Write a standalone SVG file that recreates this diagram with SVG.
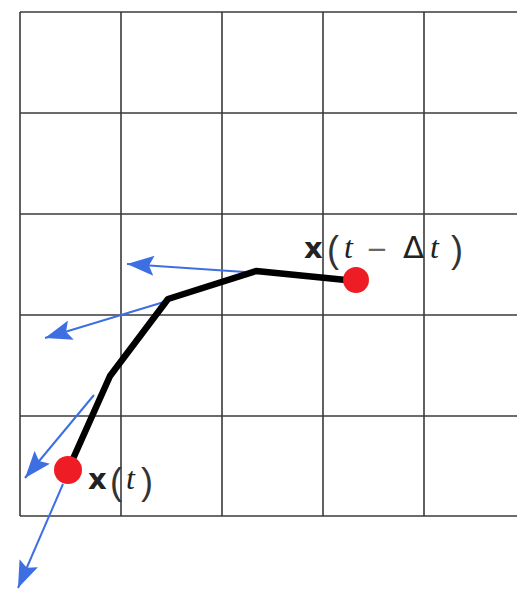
<svg xmlns="http://www.w3.org/2000/svg" width="517" height="590" viewBox="0 0 517 590">
<style>
.grid line{stroke:#3a3a3a;stroke-width:1.6}
.vel{stroke:#3d6fe3;stroke-width:2;fill:none;marker-end:url(#ah)}
.traj{stroke:#000;stroke-width:6.5;fill:none;stroke-linejoin:round;stroke-linecap:round}
.pt{fill:#ee1c24}
.lbl{font-family:"DejaVu Sans","Liberation Sans",sans-serif;fill:#222}
.v{font-size:29px;font-weight:bold}
.par{font-family:"Liberation Sans",sans-serif;font-size:36px;fill:#333}
.it{font-family:"Liberation Serif",serif;font-style:italic;font-size:32px}
.op{font-size:26px;fill:#666}
.d{font-size:31px}
</style>
<defs>
<marker id="ah" viewBox="0 0 27 20" refX="27" refY="10" markerWidth="27" markerHeight="20" markerUnits="userSpaceOnUse" orient="auto">
<path d="M0,0 L27,10 L0,20 L5,10 z" fill="#3d6fe3"/>
</marker>
</defs>
<rect width="517" height="590" fill="#fff"/>
<g id="grid" class="grid">
<line x1="20" y1="12" x2="20" y2="516"/>
<line x1="121" y1="12" x2="121" y2="516"/>
<line x1="222" y1="12" x2="222" y2="516"/>
<line x1="323" y1="12" x2="323" y2="516"/>
<line x1="424" y1="12" x2="424" y2="516"/>
<line x1="20" y1="12" x2="517" y2="12"/>
<line x1="20" y1="113" x2="517" y2="113"/>
<line x1="20" y1="214" x2="517" y2="214"/>
<line x1="20" y1="315" x2="517" y2="315"/>
<line x1="20" y1="416" x2="517" y2="416"/>
<line x1="20" y1="516" x2="517" y2="516"/>
</g>
<g id="connectors">
<line class="vel" x1="245" y1="272" x2="127" y2="264"/>
<line class="vel" x1="164" y1="302" x2="45" y2="338"/>
<line class="vel" x1="94" y1="395" x2="25" y2="478"/>
<line class="vel" x1="63" y1="484" x2="18" y2="588"/>
<polyline class="traj" points="356,281 256,271 168,299 110,376 68,470"/>
</g>
<g id="point-x-t-minus-dt">
<circle class="pt" cx="356" cy="280" r="13"/>
<text class="lbl" y="258"><tspan class="v" x="304">x</tspan><tspan class="par" x="327" y="262">(</tspan><tspan class="it" x="344" y="258">t</tspan><tspan class="op" x="366" y="258">−</tspan><tspan class="d" x="403" y="258">Δ</tspan><tspan class="it" x="430" y="258">t</tspan><tspan class="par" x="451" y="262">)</tspan></text>
</g>
<g id="point-x-t">
<circle class="pt" cx="68" cy="470" r="14"/>
<text class="lbl" y="489"><tspan class="v" x="88">x</tspan><tspan class="par" x="110" y="494">(</tspan><tspan class="it" x="126" y="489">t</tspan><tspan class="par" x="141" y="494">)</tspan></text>
</g>
</svg>
